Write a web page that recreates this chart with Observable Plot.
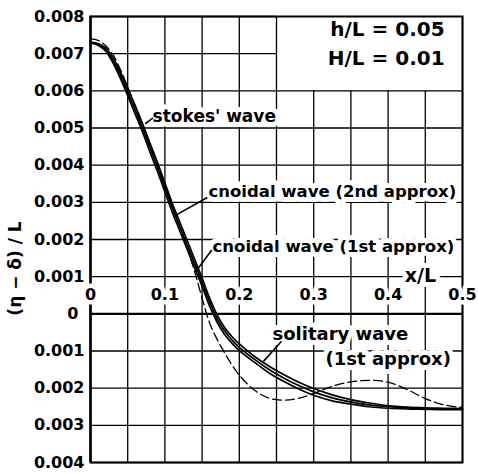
<!DOCTYPE html>
<html>
<head>
<meta charset="utf-8">
<script src="https://cdn.jsdelivr.net/npm/d3@7"></script>
<script src="https://cdn.jsdelivr.net/npm/@observablehq/plot@0.6"></script>
<style>
  html, body { margin: 0; padding: 0; background: #fff; }
  #chart svg { display: block; }
</style>
</head>
<body>
<div id="chart"></div>
<script>
// x/L positions shared by all series
const xs = [0, 0.01, 0.02, 0.03, 0.04, 0.05, 0.06, 0.07, 0.08, 0.09, 0.1, 0.11, 0.12, 0.13, 0.14, 0.15, 0.16, 0.17, 0.18, 0.19, 0.2, 0.22, 0.24, 0.26, 0.28, 0.3, 0.325, 0.35, 0.375, 0.4, 0.425, 0.45, 0.475, 0.5];
// (eta - delta)/L
const stokes = [0.00731, 0.00727, 0.00716, 0.00690, 0.00652, 0.00607, 0.00560, 0.00511, 0.00459, 0.00407, 0.00352, 0.00297, 0.00247, 0.00197, 0.00147, 0.00096, 0.00043, -0.00002, -0.00036, -0.00061, -0.00081, -0.00114, -0.00141, -0.00164, -0.00184, -0.00201, -0.00218, -0.00231, -0.00240, -0.00247, -0.00251, -0.00253, -0.00254, -0.00255];
const cnoidal2 = [0.00730, 0.00725, 0.00712, 0.00683, 0.00643, 0.00597, 0.00549, 0.00500, 0.00447, 0.00395, 0.00340, 0.00285, 0.00235, 0.00185, 0.00135, 0.00085, 0.00032, -0.00012, -0.00045, -0.00070, -0.00090, -0.00122, -0.00150, -0.00173, -0.00193, -0.00210, -0.00226, -0.00237, -0.00245, -0.00250, -0.00253, -0.00255, -0.00256, -0.00256];
const cnoidal1 = [0.00729, 0.00723, 0.00708, 0.00676, 0.00634, 0.00587, 0.00538, 0.00489, 0.00435, 0.00383, 0.00328, 0.00273, 0.00223, 0.00173, 0.00123, 0.00074, 0.00021, -0.00022, -0.00055, -0.00079, -0.00099, -0.00130, -0.00159, -0.00182, -0.00202, -0.00219, -0.00234, -0.00243, -0.00250, -0.00254, -0.00256, -0.00257, -0.00258, -0.00258];
const solitary = [0.00740, 0.00736, 0.00722, 0.00698, 0.00658, 0.00610, 0.00560, 0.00508, 0.00455, 0.00400, 0.00345, 0.00290, 0.00234, 0.00176, 0.00114, 0.00042, -0.00024, -0.00068, -0.00104, -0.00137, -0.00165, -0.00205, -0.00227, -0.00232, -0.00227, -0.00214, -0.00195, -0.00183, -0.00179, -0.00184, -0.00203, -0.00228, -0.00245, -0.00252];

const xGrid = [0, 0.05, 0.1, 0.15, 0.2, 0.25, 0.3, 0.35, 0.4, 0.45, 0.5];
const yGrid = [-0.004, -0.003, -0.002, -0.001, 0, 0.001, 0.002, 0.003, 0.004, 0.005, 0.006, 0.007, 0.008];
const xTickValues = [0, 0.1, 0.2, 0.3, 0.4, 0.5];
const xTickLabels = ["0", "0.1", "0.2", "0.3", "0.4", "0.5"];
const yTickValues = [0.008, 0.007, 0.006, 0.005, 0.004, 0.003, 0.002, 0.001, -0.001, -0.002, -0.003, -0.004];
const yTickLabels = ["0.008", "0.007", "0.006", "0.005", "0.004", "0.003", "0.002", "0.001", "0.001", "0.002", "0.003", "0.004"];
const zeroLabel = ["0"];
// annotation box (upper right, no grid inside)
const noteBoxX = 0.25, noteBoxY = 0.006;

const curveLabels = [
  {text: "stokes' wave", x: 0.0835, y: 0.00531, size: 17},
  {text: "cnoidal wave (2nd approx)", x: 0.1586, y: 0.00329, size: 16.5},
  {text: "cnoidal wave (1st approx)", x: 0.164, y: 0.00181, size: 16.5},
  {text: "solitary wave", x: 0.2446, y: -0.00056, size: 18},
  {text: "(1st approx)", x: 0.316, y: -0.00123, size: 18}
];
const leaders = [
  {x1: 0.0735, y1: 0.00511, x2: 0.084, y2: 0.00527},
  {x1: 0.1142, y1: 0.00265, x2: 0.157, y2: 0.00313},
  {x1: 0.1438, y1: 0.00120, x2: 0.163, y2: 0.00172},
  {x1: 0.2325, y1: -0.00128, x2: 0.2567, y2: -0.00074}
];
const params = [
  {text: "h/L = 0.05", x: 0.476, y: 0.00765},
  {text: "H/L = 0.01", x: 0.476, y: 0.00687}
];

const series = [
  ["stokes", stokes], ["cnoidal2", cnoidal2], ["cnoidal1", cnoidal1]
];
const solidRows = series.flatMap(([name, ys]) => xs.map((x, i) => ({x, y: ys[i], name})));
const dashRows = xs.map((x, i) => ({x, y: solitary[i]}));

const font = "DejaVu Sans";
const ink = "#000";

const chart = Plot.plot({
  width: 478,
  height: 473,
  marginLeft: 90,
  marginRight: 16,
  marginTop: 16,
  marginBottom: 11,
  x: {domain: [0, 0.5], axis: null},
  y: {domain: [-0.004, 0.008], axis: null},
  style: {fontFamily: font, background: "#fff", overflow: "visible"},
  marks: [
    Plot.ruleX(xGrid, {x: d => d, y1: -0.004, y2: d => (d > noteBoxX && d < 0.5) ? noteBoxY : 0.008, stroke: ink, strokeWidth: 1.3}),
    Plot.ruleY(yGrid, {y: d => d, x1: 0, x2: d => d > noteBoxY ? noteBoxX : 0.5, stroke: ink, strokeWidth: 1.3}),
    Plot.frame({stroke: ink, strokeWidth: 2}),
    Plot.ruleY([0], {stroke: ink, strokeWidth: 2.4}),
    Plot.ruleX([0], {stroke: ink, strokeWidth: 2.4}),
    Plot.text(xTickValues, {x: d => d, y: 0.0005, text: (d, i) => xTickLabels[i], fontSize: 16, fontWeight: "bold", fill: ink, stroke: "#fff", strokeWidth: 9, textAnchor: "middle"}),
    Plot.text(["x/L"], {x: 0.4435, y: 0.00103, text: d => d, fontSize: 19, fontWeight: "bold", fill: ink, stroke: "#fff", strokeWidth: 10}),
    Plot.text(yTickValues, {x: 0, y: d => d, text: (d, i) => yTickLabels[i], dx: -6, textAnchor: "end", fontSize: 16, fontWeight: "bold", fill: ink}),
    Plot.text(zeroLabel, {x: 0, y: 0, text: d => d, dx: -12, textAnchor: "end", fontSize: 16, fontWeight: "bold", fill: ink}),
    Plot.text(["(η − δ) / L"], {x: 0, y: 0.00122, text: d => d, dx: -75, rotate: -90, fontSize: 17, fontWeight: "bold", fill: ink}),
    Plot.text(params, {x: "x", y: "y", text: "text", textAnchor: "end", fontSize: 20, fontWeight: "bold", fill: ink}),
    Plot.text(curveLabels, {x: "x", y: "y", text: "text", fontSize: d => d.size, textAnchor: "start", fontWeight: "bold", fill: ink, stroke: "#fff", strokeWidth: 10}),
    Plot.line(solidRows, {x: "x", y: "y", z: "name", curve: "catmull-rom", stroke: ink, strokeWidth: 1.7}),
    Plot.line(dashRows, {x: "x", y: "y", curve: "catmull-rom", stroke: ink, strokeWidth: 1.3, strokeDasharray: "9,4"}),
    Plot.link(leaders, {x1: "x1", y1: "y1", x2: "x2", y2: "y2", stroke: ink, strokeWidth: 1.6})
  ]
});
document.getElementById("chart").appendChild(chart);
</script>
</body>
</html>
